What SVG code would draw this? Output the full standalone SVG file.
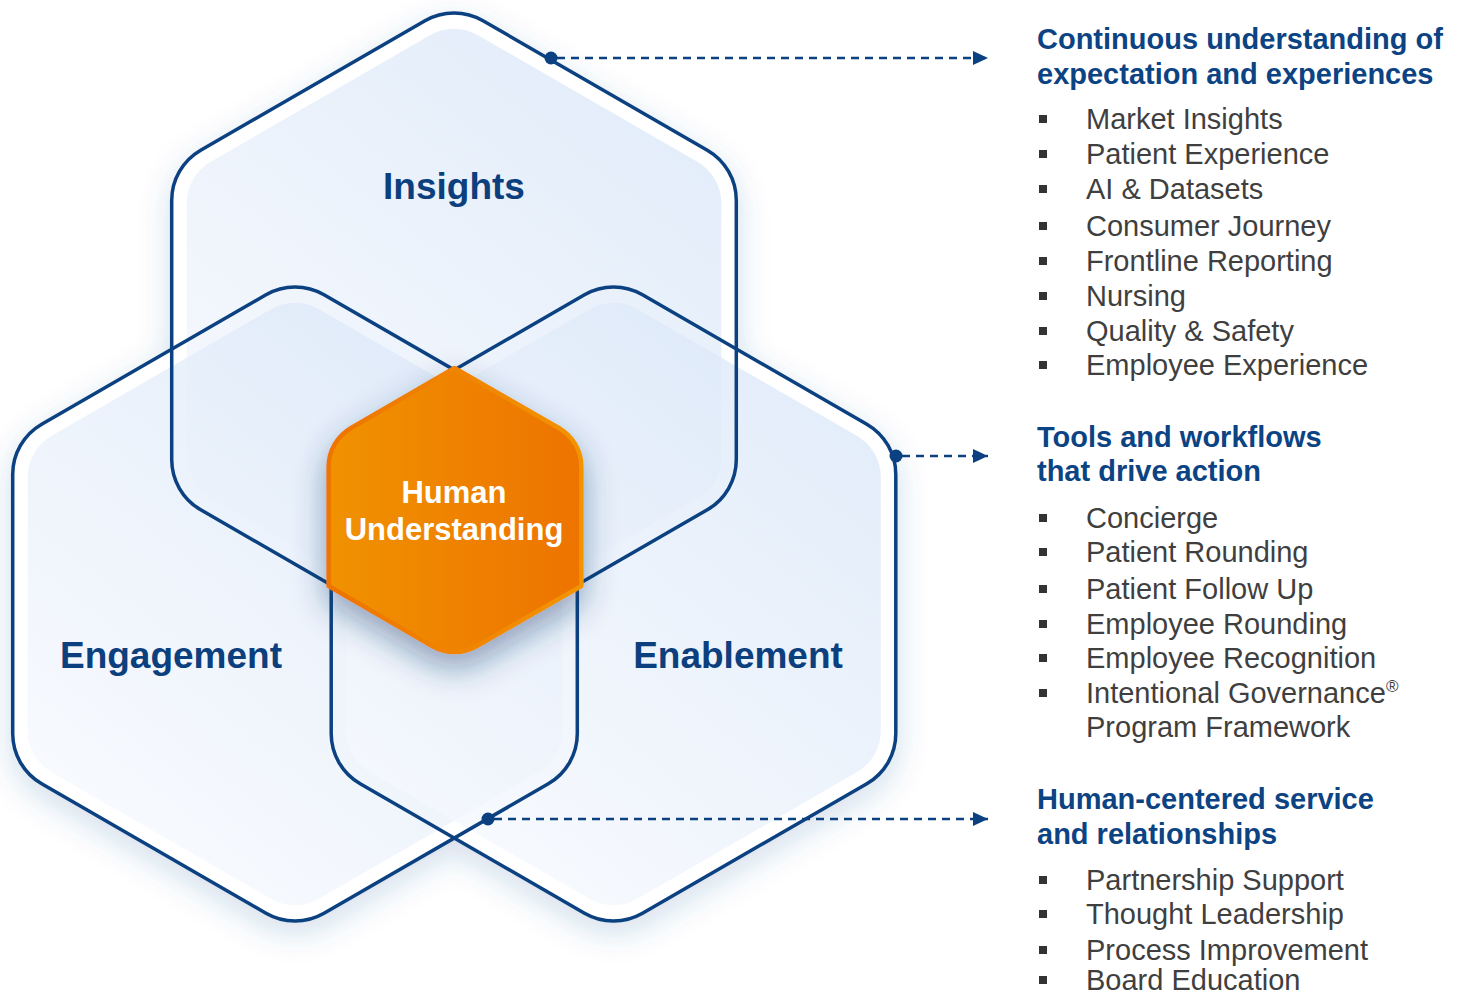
<svg xmlns="http://www.w3.org/2000/svg" width="1468" height="997" viewBox="0 0 1468 997">
<defs>
<style>
.outline{fill:none;stroke:#0B4180;stroke-width:3.5}
.inner{fill:url(#innerGrad);opacity:0.8}
.lbl{font-family:"Liberation Sans",Arial,sans-serif;font-weight:bold;font-size:37px;fill:#0C3F7D;text-anchor:middle}
.core{font-family:"Liberation Sans",Arial,sans-serif;font-weight:bold;font-size:31px;fill:#ffffff;text-anchor:middle}
.head{font-family:"Liberation Sans",Arial,sans-serif;font-weight:bold;font-size:29px;fill:#0C4383}
.item{font-family:"Liberation Sans",Arial,sans-serif;font-size:29px;fill:#3F3F3F}
.sup{font-size:17px}
.bul{fill:#333333}
.conn{fill:none;stroke:#0B4180;stroke-width:2.4;stroke-dasharray:8 6}
.dot{fill:#0B4180}
</style>
<path id="hexOuter" d="M-29,-309.25 A58 58 0 0 1 29,-309.25 L253.3,-179.75 A58 58 0 0 1 282.3,-129.5 L282.3,129.5 A58 58 0 0 1 253.3,179.75 L29,309.25 A58 58 0 0 1 -29,309.25 L-253.3,179.75 A58 58 0 0 1 -282.3,129.5 L-282.3,-129.5 A58 58 0 0 1 -253.3,-179.75 Z"/>
<path id="hexInner" d="M-24,-294.85 A48 48 0 0 1 24,-294.85 L243.3,-168.2 A48 48 0 0 1 267.3,-126.65 L267.3,126.65 A48 48 0 0 1 243.3,168.2 L24,294.85 A48 48 0 0 1 -24,294.85 L-243.3,168.2 A48 48 0 0 1 -267.3,126.65 L-267.3,-126.65 A48 48 0 0 1 -243.3,-168.2 Z"/>
<linearGradient id="innerGrad" x1="0.85" y1="0" x2="0.15" y2="1">
<stop offset="0" stop-color="#DAE7F8"/>
<stop offset="1" stop-color="#F8FAFE"/>
</linearGradient>
<linearGradient id="orangeFill" x1="0" y1="0" x2="1" y2="0">
<stop offset="0" stop-color="#F09200"/>
<stop offset="1" stop-color="#EE7300"/>
</linearGradient>
<linearGradient id="orangeStroke" x1="0" y1="0" x2="1" y2="0">
<stop offset="0" stop-color="#EE7400"/>
<stop offset="1" stop-color="#F29400"/>
</linearGradient>
<filter id="hexShadow" x="-20%" y="-20%" width="140%" height="140%">
<feDropShadow dx="0" dy="10" stdDeviation="16" flood-color="#2B5C9C" flood-opacity="0.22"/>
</filter>
<filter id="coreShadow" x="-40%" y="-40%" width="180%" height="180%">
<feDropShadow dx="0" dy="14" stdDeviation="16" flood-color="#1C3D6B" flood-opacity="0.45"/>
</filter>
<marker id="arrow" viewBox="0 0 15 14" refX="15" refY="7" markerWidth="15" markerHeight="14" markerUnits="userSpaceOnUse" orient="auto">
<path d="M0,0 L15,7 L0,14 Z" fill="#0B4180"/>
</marker>
</defs>

<rect width="1468" height="997" fill="#ffffff"/>

<g id="backgrounds">
<g filter="url(#hexShadow)">
<use href="#hexOuter" transform="translate(454,330)" fill="#ffffff"/>
<use href="#hexOuter" transform="translate(295,604)" fill="#ffffff"/>
<use href="#hexOuter" transform="translate(613.5,604)" fill="#ffffff"/>
</g>
<use href="#hexInner" class="inner" transform="translate(454,330)"/>
<use href="#hexInner" class="inner" transform="translate(295,604)"/>
<use href="#hexInner" class="inner" transform="translate(613.5,604)"/>
</g>

<g id="node-insights">
<use href="#hexOuter" class="outline" transform="translate(454,330)"/>
<text class="lbl" x="454" y="199">Insights</text>
</g>
<g id="node-engagement">
<use href="#hexOuter" class="outline" transform="translate(295,604)"/>
<text class="lbl" x="171" y="668">Engagement</text>
</g>
<g id="node-enablement">
<use href="#hexOuter" class="outline" transform="translate(613.5,604)"/>
<text class="lbl" x="738" y="668">Enablement</text>
</g>

<g id="node-human-understanding">
<path filter="url(#coreShadow)" d="M454.5,368 L558.9,428 A45 45 0 0 1 581.4,467 L581.4,586 L477,646 A45 45 0 0 1 432,646 L328.6,586 L328.6,467 A45 45 0 0 1 351.1,428 Z" fill="url(#orangeFill)" stroke="url(#orangeStroke)" stroke-width="4.5" stroke-linejoin="round"/>
<text class="core" x="454" y="503">Human</text>
<text class="core" x="454" y="540">Understanding</text>
</g>

<g id="connectors">
<line class="conn" x1="557" y1="58" x2="988" y2="58" marker-end="url(#arrow)"/>
<line class="conn" x1="902" y1="456" x2="988" y2="456" marker-end="url(#arrow)"/>
<line class="conn" x1="494" y1="819" x2="988" y2="819" marker-end="url(#arrow)"/>
<circle class="dot" cx="551" cy="58" r="6.5"/>
<circle class="dot" cx="896" cy="456" r="6.5"/>
<circle class="dot" cx="488" cy="819" r="6.5"/>
</g>

<g id="list-insights">
<text class="head" x="1037" y="49">Continuous understanding of</text>
<text class="head" x="1037" y="84">expectation and experiences</text>
<rect class="bul" x="1039" y="115" width="8" height="8"/><text class="item" x="1086" y="129">Market Insights</text>
<rect class="bul" x="1039" y="150" width="8" height="8"/><text class="item" x="1086" y="164">Patient Experience</text>
<rect class="bul" x="1039" y="185" width="8" height="8"/><text class="item" x="1086" y="199">AI &amp; Datasets</text>
<rect class="bul" x="1039" y="222" width="8" height="8"/><text class="item" x="1086" y="236">Consumer Journey</text>
<rect class="bul" x="1039" y="257" width="8" height="8"/><text class="item" x="1086" y="271">Frontline Reporting</text>
<rect class="bul" x="1039" y="292" width="8" height="8"/><text class="item" x="1086" y="306">Nursing</text>
<rect class="bul" x="1039" y="327" width="8" height="8"/><text class="item" x="1086" y="341">Quality &amp; Safety</text>
<rect class="bul" x="1039" y="361" width="8" height="8"/><text class="item" x="1086" y="375">Employee Experience</text>
</g>

<g id="list-enablement">
<text class="head" x="1037" y="447">Tools and workflows</text>
<text class="head" x="1037" y="481">that drive action</text>
<rect class="bul" x="1039" y="514" width="8" height="8"/><text class="item" x="1086" y="528">Concierge</text>
<rect class="bul" x="1039" y="548" width="8" height="8"/><text class="item" x="1086" y="562">Patient Rounding</text>
<rect class="bul" x="1039" y="585" width="8" height="8"/><text class="item" x="1086" y="599">Patient Follow Up</text>
<rect class="bul" x="1039" y="620" width="8" height="8"/><text class="item" x="1086" y="634">Employee Rounding</text>
<rect class="bul" x="1039" y="654" width="8" height="8"/><text class="item" x="1086" y="668">Employee Recognition</text>
<rect class="bul" x="1039" y="689" width="8" height="8"/><text class="item" x="1086" y="703">Intentional Governance<tspan class="sup" dy="-11">®</tspan></text>
<text class="item" x="1086" y="737">Program Framework</text>
</g>

<g id="list-engagement">
<text class="head" x="1037" y="809">Human-centered service</text>
<text class="head" x="1037" y="844">and relationships</text>
<rect class="bul" x="1039" y="876" width="8" height="8"/><text class="item" x="1086" y="890">Partnership Support</text>
<rect class="bul" x="1039" y="910" width="8" height="8"/><text class="item" x="1086" y="924">Thought Leadership</text>
<rect class="bul" x="1039" y="946" width="8" height="8"/><text class="item" x="1086" y="960">Process Improvement</text>
<rect class="bul" x="1039" y="976" width="8" height="8"/><text class="item" x="1086" y="990">Board Education</text>
</g>
</svg>
